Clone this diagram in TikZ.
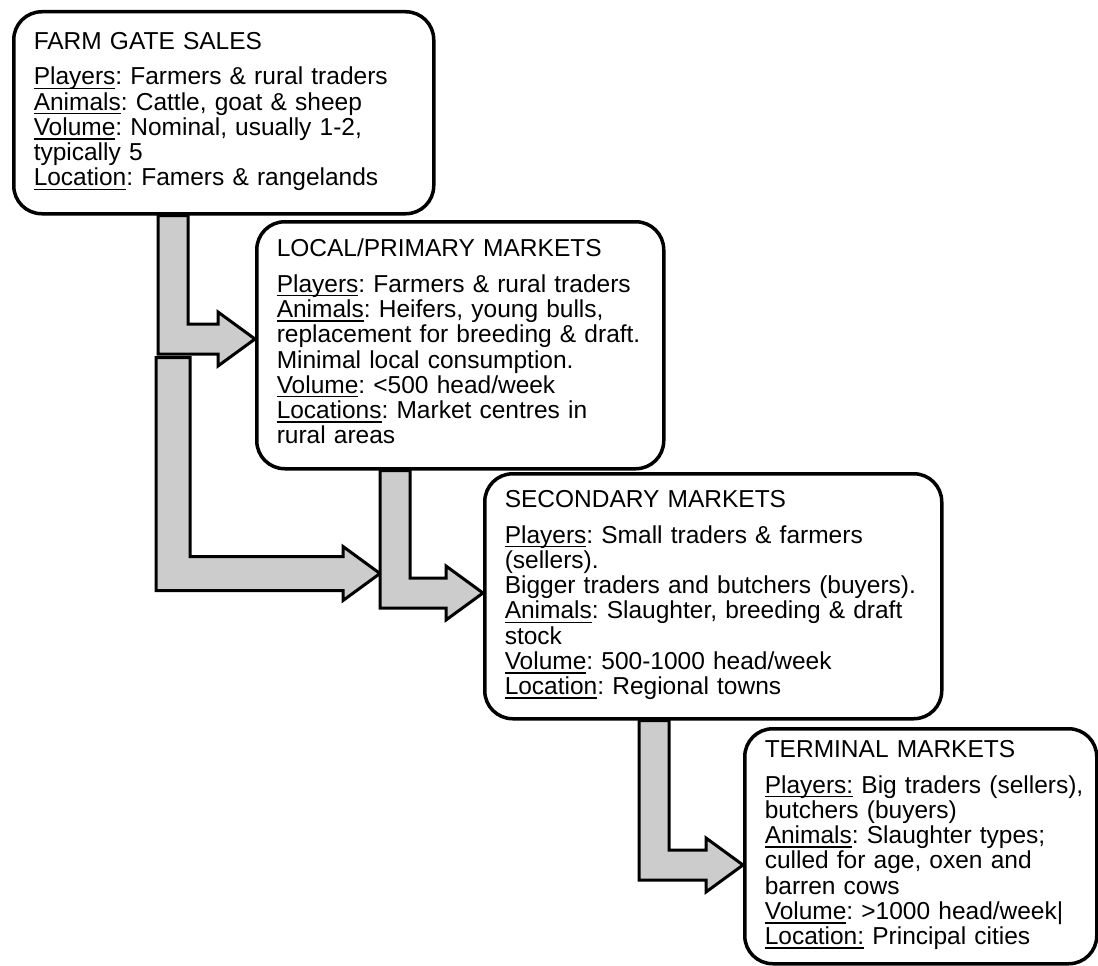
\documentclass[tikz,border=0pt]{standalone}
\usepackage{fontspec}
\setmainfont{Liberation Sans}
\usetikzlibrary{calc,backgrounds}

\frenchspacing
\newcommand{\fld}[1]{\setbox0=\hbox{#1}\rlap{\rule[-4.2pt]{\wd0}{1.5pt}}\box0\relax}
\newcommand{\tiplen}{37pt}
\newcommand{\tipwd}{27pt}
% L-shaped block arrow: down from #2, then right to the tip #3
\newcommand{\elbow}[3][15pt]{%
  \path[flowarrow] let \p1=(#2), \p2=(#3) in
    (\x1-#1,\y1) -- (\x1-#1,\y2-#1) -- (\x2-\tiplen,\y2-#1) -- (\x2-\tiplen,\y2-\tipwd)
    -- (\x2,\y2) -- (\x2-\tiplen,\y2+\tipwd) -- (\x2-\tiplen,\y2+#1)
    -- (\x1+#1,\y2+#1) -- (\x1+#1,\y1) -- cycle;}

\tikzset{
  market/.style={draw, line width=3.5pt, rounded corners=28pt, fill=white,
    anchor=north west, inner xsep=20pt, inner ysep=0pt, align=left,
    font=\fontsize{24.5}{25}\selectfont},
  flowarrow/.style={draw, fill=black!20, line width=3pt, line join=miter}
}

\begin{document}
\begin{tikzpicture}[x=1pt,y=-1pt]
  \useasboundingbox (0,0) rectangle (1098,966);

  \node[market, text width=380pt, minimum height=202pt] (gate) at (12,10) {%
    \begin{tabular}{@{}l@{}}
      FARM GATE SALES\\[10pt]
      \fld{Players}: Farmers \& rural traders\\
      \fld{Animals}: Cattle, goat \& sheep\\
      \fld{Volume}: Nominal, usually 1-2,\\
      typically 5\\
      \fld{Location}: Famers \& rangelands
    \end{tabular}};
  \node[market, text width=367pt, minimum height=247pt] (primary) at (255,220) {%
    \begin{tabular}{@{}l@{}}
      LOCAL/PRIMARY MARKETS\\[10pt]
      \fld{Players}: Farmers \& rural traders\\
      \fld{Animals}: Heifers, young bulls,\\
      replacement for breeding \& draft.\\
      Minimal local consumption.\\
      \fld{Volume}: <500 head/week\\
      \fld{Locations}: Market centres in\\
      rural areas
    \end{tabular}};
  \node[market, text width=417pt, minimum height=245pt] (secondary) at (483,472) {%
    \begin{tabular}{@{}l@{}}
      SECONDARY MARKETS\\[10pt]
      \fld{Players}: Small traders \& farmers\\
      (sellers).\\
      Bigger traders and butchers (buyers).\\
      \fld{Animals}: Slaughter, breeding \& draft\\
      stock\\
      \fld{Volume}: 500-1000 head/week\\
      \fld{Location}: Regional towns
    \end{tabular}};
  \node[market, text width=312pt, minimum height=235pt] (terminal) at (743,727) {%
    \begin{tabular}{@{}l@{}}
      TERMINAL MARKETS\\[10pt]
      \fld{Players:} Big traders (sellers),\\
      butchers (buyers)\\
      \fld{Animals}: Slaughter types;\\
      culled for age, oxen and\\
      barren cows\\
      \fld{Volume}: >1000 head/week|\\
      \fld{Location:} Principal cities
    \end{tabular}};

  \coordinate (split) at ($(gate.south west)+(161,142)$);
  \coordinate (join) at ($(primary.south west)+(125,103)$);

  \begin{scope}[on background layer]
    \elbow[17pt]{split}{join}
    \elbow[15pt]{$(gate.south west)+(161,0)$}{$(primary.north west)+(0,119)$}
    \elbow[15pt]{$(primary.south west)+(140,0)$}{$(secondary.north west)+(0,121)$}
    \elbow[15pt]{$(secondary.south west)+(171,0)$}{$(terminal.north west)+(0,138)$}
  \end{scope}
\end{tikzpicture}
\end{document}
